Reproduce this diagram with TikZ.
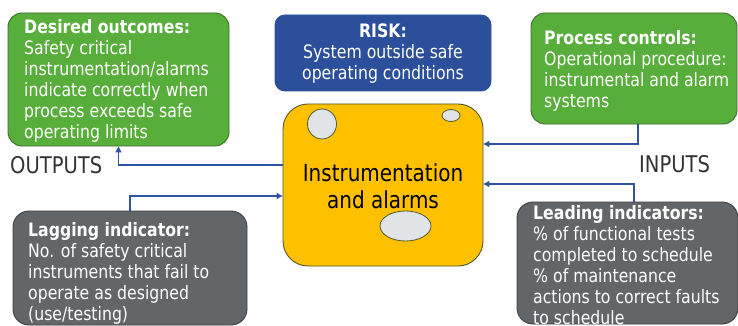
\documentclass[tikz,border=0pt]{standalone}
\usepackage{fontspec}
\setmainfont[FakeStretch=0.85]{DejaVu Sans}
\usetikzlibrary{arrows.meta,shapes.geometric}
\definecolor{boxgreen}{HTML}{58AE3A}
\definecolor{greenedge}{HTML}{3D6E2A}
\definecolor{riskblue}{HTML}{2B4F9A}
\definecolor{boxgray}{HTML}{626669}
\definecolor{grayedge}{HTML}{3C3F41}
\definecolor{coreyellow}{HTML}{FFC000}
\definecolor{coreedge}{HTML}{4E5A26}
\definecolor{bubble}{HTML}{E1E4E7}
\definecolor{linkblue}{HTML}{2F54A2}
\definecolor{labelgray}{HTML}{333333}
\begin{document}
\begin{tikzpicture}[x=1pt,y=-1pt,
  panel/.style={rectangle, inner sep=0pt, line width=0.9pt},
  body/.style={text=white, inner sep=0pt, align=left, font=\fontsize{18.5}{21}\selectfont},
  sidelabel/.style={text=labelgray, inner sep=0pt, font=\fontsize{23}{27}\selectfont},
  bubblestyle/.style={ellipse, draw=coreedge, fill=bubble, line width=0.8pt, inner sep=0pt},
  link/.style={draw=linkblue, line width=1.4pt, -{Triangle[length=6pt,width=6pt]}}]
\useasboundingbox (0,0) rectangle (738,326);

% boxes
\node[panel, fill=boxgreen, draw=greenedge, rounded corners=14pt, minimum width=221pt, minimum height=133pt] (outcomes) at (118.5,79.5) {};
\node[panel, fill=riskblue, draw=riskblue, rounded corners=10pt, minimum width=216pt, minimum height=76pt] (risk) at (383,53) {};
\node[panel, fill=coreyellow, draw=coreedge, rounded corners=25pt, minimum width=200pt, minimum height=162pt] (core) at (383,185) {};
\node[panel, fill=boxgreen, draw=greenedge, rounded corners=14pt, minimum width=206pt, minimum height=111pt] (process) at (634,68.5) {};
\node[panel, fill=boxgray, draw=grayedge, rounded corners=16pt, minimum width=234pt, minimum height=114pt] (lagging) at (130,268) {};
\node[panel, fill=boxgray, draw=grayedge, rounded corners=16pt, minimum width=221pt, minimum height=122pt] (leading) at (627.5,263) {};

% bubbles
\node[bubblestyle, minimum width=29pt, minimum height=30pt] (bubA) at (322,124) {};
\node[bubblestyle, minimum width=18pt, minimum height=12pt] (bubB) at (451,115.5) {};
\node[bubblestyle, minimum width=51pt, minimum height=30pt] (bubC) at (405.5,226) {};

% texts
\node[body, anchor=north west] (outcomesText) at (24,19)
  {\textbf{Desired outcomes:}\\Safety critical\\instrumentation/alarms\\indicate correctly when\\process exceeds safe\\operating limits};
\node[body, anchor=north, align=center] (riskText) at (383,24)
  {\textbf{RISK:}\\System outside safe\\operating conditions};
\node[body, anchor=north west] (processText) at (544,30)
  {\textbf{Process controls:}\\Operational procedure:\\instrumental and alarm\\systems};
\node[body, anchor=north west] (laggingText) at (28,222)
  {\textbf{Lagging indicator:}\\No. of safety critical\\instruments that fail to\\operate as designed\\(use/testing)};
\node[body, anchor=north west] (leadingText) at (533,205)
  {\textbf{Leading indicators:}\\\% of functional tests\\completed to schedule\\\% of maintenance\\actions to correct faults\\to schedule};
\node[inner sep=0pt, anchor=north, align=center, text=black, font=\fontsize{23.5}{27.5}\selectfont] (coreText) at (383,163)
  {Instrumentation\\and alarms};
\node[sidelabel, anchor=base west] (outLabel) at (10,173) {OUTPUTS};
\node[sidelabel, anchor=base west] (inLabel) at (639,172) {INPUTS};

% connectors
\draw[link] ([yshift=20pt]core.west) -| (outcomes.south);
\draw[link] (lagging.north) |- ([yshift=-11pt]core.west);
\draw[link] ([xshift=4pt]process.south) |- ([yshift=41pt]core.east);
\draw[link] ([xshift=6.5pt]leading.north) |- ([yshift=1pt]core.east);
\end{tikzpicture}
\end{document}
